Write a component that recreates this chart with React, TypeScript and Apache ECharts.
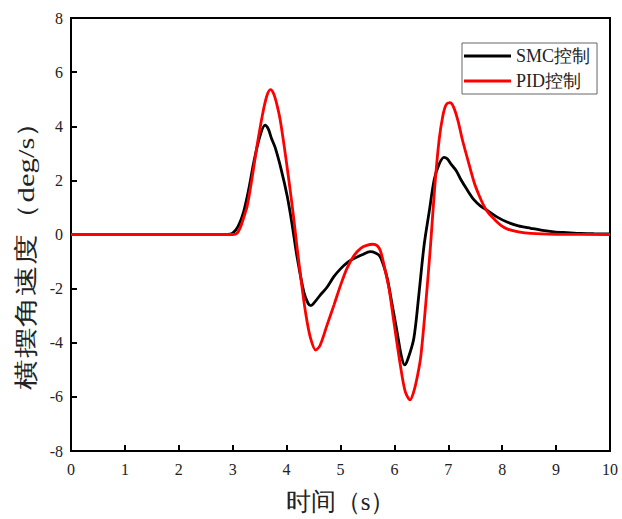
import React, { useEffect, useRef } from "react";
import * as echarts from "echarts";

const xTicks = [0, 1, 2, 3, 4, 5, 6, 7, 8, 9, 10];
const yTicks = [-8, -6, -4, -2, 0, 2, 4, 6, 8];

const smcX = [0, 1, 2, 2.9, 3.0, 3.1, 3.2, 3.3, 3.39, 3.5, 3.6, 3.66, 3.72, 3.79, 3.9, 4.01, 4.1, 4.19, 4.32, 4.4, 4.45, 4.52, 4.62, 4.75, 4.88, 5.0, 5.12, 5.24, 5.4, 5.55, 5.65, 5.73, 5.8, 5.87, 5.95, 6.05, 6.13, 6.19, 6.25, 6.36, 6.45, 6.55, 6.65, 6.74, 6.83, 6.92, 6.98, 7.05, 7.15, 7.23, 7.35, 7.47, 7.6, 7.73, 7.9, 8.1, 8.3, 8.53, 8.75, 8.96, 9.2, 9.46, 9.7, 10];
const smcY = [0, 0, 0, 0, 0.05, 0.3, 0.82, 1.7, 2.66, 3.6, 4.04, 3.9, 3.55, 3.2, 2.4, 1.43, 0.4, -0.78, -2.13, -2.55, -2.63, -2.5, -2.25, -1.95, -1.55, -1.27, -1.05, -0.9, -0.75, -0.63, -0.68, -0.8, -1.15, -1.64, -2.5, -3.6, -4.5, -4.82, -4.6, -3.84, -2.3, -0.41, 0.9, 2.04, 2.6, 2.85, 2.8, 2.6, 2.35, 2.04, 1.65, 1.3, 1.05, 0.88, 0.65, 0.45, 0.32, 0.23, 0.15, 0.1, 0.07, 0.04, 0.03, 0.02];

const pidX = [0, 1, 2, 3.0, 3.08, 3.15, 3.2, 3.27, 3.36, 3.45, 3.55, 3.63, 3.7, 3.76, 3.82, 3.88, 3.96, 4.04, 4.12, 4.19, 4.27, 4.35, 4.44, 4.54, 4.62, 4.75, 4.88, 5.0, 5.12, 5.25, 5.38, 5.5, 5.6, 5.68, 5.74, 5.81, 5.9, 5.99, 6.1, 6.2, 6.29, 6.36, 6.43, 6.49, 6.58, 6.67, 6.75, 6.83, 6.9, 6.96, 7.03, 7.1, 7.18, 7.26, 7.37, 7.48, 7.57, 7.66, 7.75, 7.85, 7.97, 8.1, 8.3, 8.53, 9, 10];
const pidY = [0, 0, 0, 0, 0.05, 0.3, 0.6, 1.06, 2.1, 3.26, 4.4, 5.1, 5.35, 5.2, 4.8, 4.25, 3.2, 2.04, 0.8, -0.41, -1.7, -2.86, -3.8, -4.27, -4.1, -3.35, -2.6, -1.88, -1.25, -0.78, -0.5, -0.39, -0.36, -0.41, -0.6, -1.15, -2.0, -3.23, -4.7, -5.8, -6.11, -5.8, -5.2, -4.5, -2.6, -0.41, 1.8, 3.5, 4.4, 4.8, 4.87, 4.7, 4.2, 3.51, 2.7, 1.92, 1.45, 1.06, 0.78, 0.57, 0.35, 0.2, 0.1, 0.04, 0.01, 0];

const seriesNames = ["SMC控制", "PID控制"];
const seriesColors = ["#000000", "#ff0000"];
const xTitle = "时间（s）";
const yTitle = "横摆角速度（deg/s）";

const serif = "Liberation Serif";

export default function App() {
  const ref = useRef<HTMLDivElement>(null);
  useEffect(() => {
    if (!ref.current) return;
    const chart = echarts.init(ref.current, undefined, { renderer: "svg" });
    const pairs = (xs: number[], ys: number[]) => xs.map((x, i) => [x, ys[i]]);
    chart.setOption({
      animation: false,
      backgroundColor: "#ffffff",
      grid: {
        left: 71,
        top: 18,
        right: 12,
        bottom: 66,
        show: true,
        borderColor: "#000",
        borderWidth: 2,
        backgroundColor: "transparent",
      },
      graphic: [
        {
          type: "text",
          x: 26,
          y: 248,
          rotation: Math.PI / 2,
          scaleX: 1.28,
          scaleY: 1,
          style: {
            text: yTitle,
            fontFamily: serif,
            fontSize: 24,
            fill: "#222",
            textAlign: "center",
            textVerticalAlign: "middle",
          },
        },
      ],
      legend: {
        orient: "vertical",
        left: 462,
        top: 43,
        data: seriesNames,
        icon: "rect",
        itemWidth: 47,
        itemHeight: 3,
        itemGap: 7,
        padding: [4, 7, 4, 2],
        borderColor: "#666",
        borderWidth: 1,
        backgroundColor: "#fff",
        textStyle: { fontFamily: serif, fontSize: 18, color: "#222" },
      },
      xAxis: {
        type: "value",
        min: 0,
        max: 10,
        interval: 1,
        name: xTitle,
        nameLocation: "middle",
        nameGap: 38,
        nameTextStyle: { fontFamily: serif, fontSize: 25, color: "#222" },
        axisLine: { show: true, onZero: false, lineStyle: { color: "#000", width: 2 } },
        axisTick: { show: true, inside: true, length: 6, lineStyle: { color: "#000", width: 2 } },
        axisLabel: { fontFamily: serif, fontSize: 16, color: "#222", margin: 10 },
        splitLine: { show: false },
      },
      yAxis: {
        type: "value",
        min: -8,
        max: 8,
        interval: 2,
        axisLine: { show: true, onZero: false, lineStyle: { color: "#000", width: 2 } },
        axisTick: { show: true, inside: true, length: 6, lineStyle: { color: "#000", width: 2 } },
        axisLabel: { fontFamily: serif, fontSize: 16, color: "#222", margin: 8 },
        splitLine: { show: false },
      },
      series: [
        {
          name: seriesNames[0],
          type: "line",
          data: pairs(smcX, smcY),
          showSymbol: false,
          symbol: "none",
          smooth: 0.3,
          lineStyle: { color: seriesColors[0], width: 2.8 },
          itemStyle: { color: seriesColors[0] },
          z: 2,
        },
        {
          name: seriesNames[1],
          type: "line",
          data: pairs(pidX, pidY),
          showSymbol: false,
          symbol: "none",
          smooth: 0.3,
          lineStyle: { color: seriesColors[1], width: 2.8 },
          itemStyle: { color: seriesColors[1] },
          z: 3,
        },
      ],
    });
    return () => chart.dispose();
  }, []);
  return (
    <div
      ref={ref}
      style={{ position: "fixed", left: 0, top: 0, width: 622, height: 519, background: "#fff" }}
    />
  );
}
